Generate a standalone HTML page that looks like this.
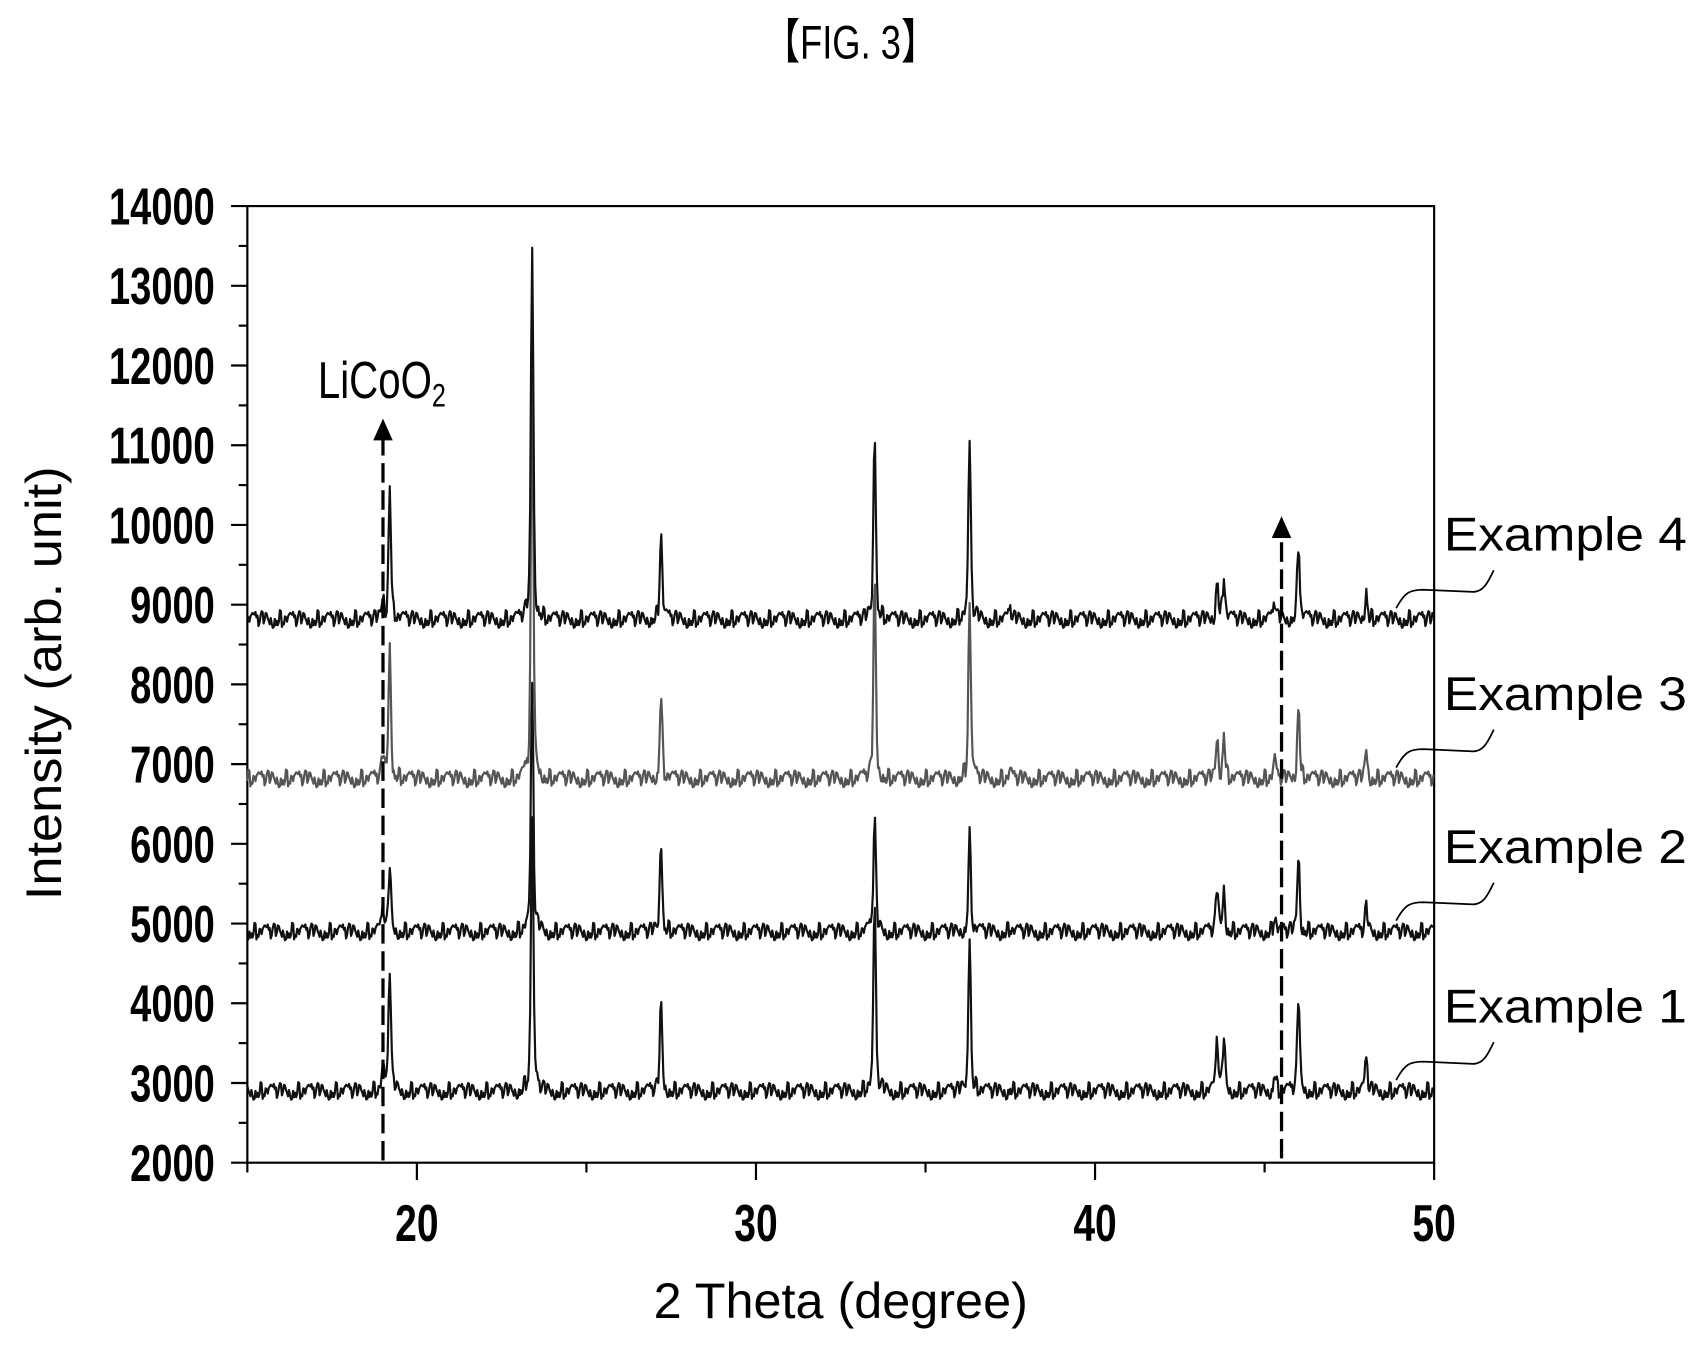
<!DOCTYPE html>
<html><head><meta charset="utf-8"><style>
html,body{margin:0;padding:0;background:#fff;}
svg{display:block;}
</style></head><body>
<svg id="chart" width="1701" height="1346" viewBox="0 0 1568 1241" preserveAspectRatio="none" xmlns="http://www.w3.org/2000/svg" font-family="'Liberation Sans', sans-serif">
<rect width="1568" height="1241" fill="#fff"/>
<text x="784" y="54" text-anchor="middle" font-size="44" textLength="160" lengthAdjust="spacingAndGlyphs">【FIG. 3】</text>
<g id="axes"></g>
<g id="series"></g>
<g id="annot"></g>
</svg>
<script>
const xTicks = [20, 30, 40, 50];
const yTicks = [2000,3000,4000,5000,6000,7000,8000,9000,10000,11000,12000,13000,14000];
const seriesNames = ["Example 1","Example 2","Example 3","Example 4"];
const baselines = [2900, 4900, 6820, 8820];
const peakPos = [19.0, 19.2, 23.4, 27.2, 33.5, 36.3, 37.5, 43.6, 43.8, 45.3, 46.0, 48.0];
const peaks1 = [3150, 4450, 6300, 4000, 5250, 4900, 2950, 3550, 3550, 3150, 4100, 3300];
const peaks2 = [5200, 5700, 8000, 6100, 6350, 6100, 4950, 5450, 5450, 5100, 5900, 5200];
const peaks3 = [7100, 8500, 11800, 7900, 9300, 9000, 6900, 7350, 7400, 7050, 7800, 7200];
const peaks4 = [9100, 10500, 13500, 9900, 11250, 11000, 8950, 9350, 9350, 9050, 9800, 9200];
const noise = [60,-40,90,-70,20,-100,50,10,-60,80,-30,40,-90,70,-20,30,-50,100,-80,0,60,-60,20,-10,90,-40,-70,50,10,-30,70,-90,40,-20,80,-50,30];
const seriesColors = ["#111","#111","#555","#111"];

const NS="http://www.w3.org/2000/svg";
const X0=228, X1=1322, Y0=1072, Y1=190;
const sx = v => X0 + (v-15)/(50-15)*(X1-X0);
const sy = v => Y0 - (v-2000)/(14000-2000)*(Y0-Y1);
function mk(tag, attrs, parent){const e=document.createElementNS(NS,tag);for(const k in attrs)e.setAttribute(k,attrs[k]);parent.appendChild(e);return e;}
const axes=document.getElementById('axes');
const frame=mk('rect',{x:X0,y:Y1,width:X1-X0,height:Y0-Y1,fill:'none',stroke:'#000','stroke-width':2},axes);


yTicks.forEach(v=>{
  const t=mk('line',{x1:X0-15,x2:X0,y1:sy(v),y2:sy(v),stroke:'#000','stroke-width':2},axes);
  
  
  if(v<14000){const m=mk('line',{x1:X0-8,x2:X0,y1:sy(v+500),y2:sy(v+500),stroke:'#000','stroke-width':2},axes);
  
  }
  const l=mk('text',{x:X0-30,y:sy(v)+17,'text-anchor':'end','font-size':48,'font-weight':'bold',textLength:String(v).length*19.5,lengthAdjust:'spacingAndGlyphs'},axes);
  l.textContent=v;
  
  
});
[15,20,25,30,35,40,45,50].forEach(v=>{
  const major = xTicks.includes(v);
  const t=mk('line',{x1:sx(v),x2:sx(v),y1:Y0,y2:Y0+(major?16:9),stroke:'#000','stroke-width':2},axes);
  
  
});
xTicks.forEach(v=>{
  const l=mk('text',{x:sx(v),y:Y0+72,'text-anchor':'middle','font-size':48,'font-weight':'bold',textLength:40,lengthAdjust:'spacingAndGlyphs'},axes);
  l.textContent=v;
  
  
});
const xt=mk('text',{x:775,y:1215,'text-anchor':'middle','font-size':46,textLength:345,lengthAdjust:'spacingAndGlyphs'},axes);
xt.textContent='2 Theta (degree)';


const yt=mk('text',{x:0,y:0,'text-anchor':'middle','font-size':46,transform:'translate(56,630) rotate(-90)',textLength:400,lengthAdjust:'spacingAndGlyphs'},axes);
yt.textContent='Intensity (arb. unit)';



const allPeaks=[peaks1,peaks2,peaks3,peaks4];
const sg=document.getElementById('series');
allPeaks.forEach((pk,si)=>{
  const base=baselines[si];
  let d='';let i=0;
  for(let x=15;x<=50.001;x+=0.03,i++){
    let y=base+noise[(i*7+si*5)%noise.length]*1.1;
    pk.forEach((h,j)=>{
      const dx=x-peakPos[j];
      const amp=h-base;
      y+=amp*Math.exp(-dx*dx/(2*0.035*0.035))*0.85+amp*0.15*Math.exp(-Math.abs(dx)/0.12);
    });
    d+=(d?'L':'M')+sx(x).toFixed(1)+','+sy(y).toFixed(1);
  }
  const p=mk('path',{d:d,fill:'none',stroke:seriesColors[si],'stroke-width':2,'stroke-linejoin':'round'},sg);
  
  
  const ly=sy(base);
  const lab=mk('text',{x:1331,y:ly-63,'font-size':44,textLength:224,lengthAdjust:'spacingAndGlyphs'},sg);
  lab.textContent=seriesNames[si];
  
  
  const lead=mk('path',{d:`M1287,${ly-10} C1295,${ly-25} 1300,${ly-27} 1312,${ly-27} L1358,${ly-25} C1368,${ly-25} 1372,${ly-35} 1377,${ly-45}`,fill:'none',stroke:'#000','stroke-width':1.6},sg);
  
  
});

const an=document.getElementById('annot');
[[19.0,Y0-2,390],[45.5,Y0-4,480]].forEach(([v,yb,yt2])=>{
  const ln=mk('line',{x1:sx(v),x2:sx(v),y1:yb,y2:yt2+12,stroke:'#000','stroke-width':3,'stroke-dasharray':'18,7'},an);
  
  
  const ar=mk('polygon',{points:`${sx(v)-9},${yt2+16} ${sx(v)+9},${yt2+16} ${sx(v)},${yt2-4}`,fill:'#000'},an);
  
  
});
const lc=mk('text',{x:293,y:367,'font-size':48,textLength:118,lengthAdjust:'spacingAndGlyphs'},an);
lc.innerHTML='LiCoO<tspan font-size="30" dy="8">2</tspan>';


</script>
</body></html>
